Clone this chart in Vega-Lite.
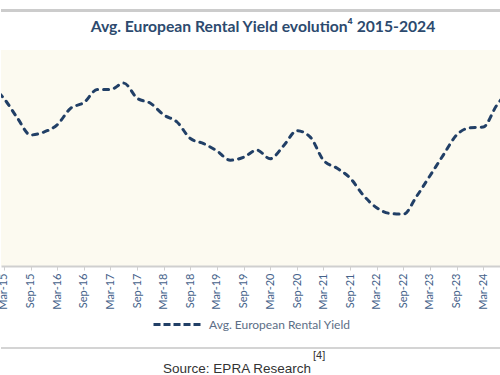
{
  "$schema": "https://vega.github.io/schema/vega-lite/v6.json",
  "padding": {"top": 0, "left": -3, "right": 0, "bottom": 0},
  "background": "white",
  "spacing": 0,
  "config": {"view": {"stroke": null}, "font": "Lato"},
  "datasets": {
    "yield": [
      {"date": "2014-12-01", "value": 5.50, "series": "Avg. European Rental Yield"},
      {"date": "2015-03-01", "value": 5.33, "series": "Avg. European Rental Yield"},
      {"date": "2015-06-01", "value": 5.06, "series": "Avg. European Rental Yield"},
      {"date": "2015-09-01", "value": 4.82, "series": "Avg. European Rental Yield"},
      {"date": "2015-12-01", "value": 4.86, "series": "Avg. European Rental Yield"},
      {"date": "2016-03-01", "value": 4.96, "series": "Avg. European Rental Yield"},
      {"date": "2016-06-01", "value": 5.19, "series": "Avg. European Rental Yield"},
      {"date": "2016-09-01", "value": 5.27, "series": "Avg. European Rental Yield"},
      {"date": "2016-12-01", "value": 5.45, "series": "Avg. European Rental Yield"},
      {"date": "2017-03-01", "value": 5.45, "series": "Avg. European Rental Yield"},
      {"date": "2017-06-01", "value": 5.54, "series": "Avg. European Rental Yield"},
      {"date": "2017-09-01", "value": 5.33, "series": "Avg. European Rental Yield"},
      {"date": "2017-12-01", "value": 5.26, "series": "Avg. European Rental Yield"},
      {"date": "2018-03-01", "value": 5.10, "series": "Avg. European Rental Yield"},
      {"date": "2018-06-01", "value": 5.00, "series": "Avg. European Rental Yield"},
      {"date": "2018-09-01", "value": 4.77, "series": "Avg. European Rental Yield"},
      {"date": "2018-12-01", "value": 4.70, "series": "Avg. European Rental Yield"},
      {"date": "2019-03-01", "value": 4.60, "series": "Avg. European Rental Yield"},
      {"date": "2019-06-01", "value": 4.47, "series": "Avg. European Rental Yield"},
      {"date": "2019-09-01", "value": 4.51, "series": "Avg. European Rental Yield"},
      {"date": "2019-12-01", "value": 4.61, "series": "Avg. European Rental Yield"},
      {"date": "2020-03-01", "value": 4.49, "series": "Avg. European Rental Yield"},
      {"date": "2020-06-01", "value": 4.67, "series": "Avg. European Rental Yield"},
      {"date": "2020-09-01", "value": 4.88, "series": "Avg. European Rental Yield"},
      {"date": "2020-12-01", "value": 4.79, "series": "Avg. European Rental Yield"},
      {"date": "2021-03-01", "value": 4.47, "series": "Avg. European Rental Yield"},
      {"date": "2021-06-01", "value": 4.36, "series": "Avg. European Rental Yield"},
      {"date": "2021-09-01", "value": 4.22, "series": "Avg. European Rental Yield"},
      {"date": "2021-12-01", "value": 3.98, "series": "Avg. European Rental Yield"},
      {"date": "2022-03-01", "value": 3.81, "series": "Avg. European Rental Yield"},
      {"date": "2022-06-01", "value": 3.73, "series": "Avg. European Rental Yield"},
      {"date": "2022-09-01", "value": 3.72, "series": "Avg. European Rental Yield"},
      {"date": "2022-12-01", "value": 3.97, "series": "Avg. European Rental Yield"},
      {"date": "2023-03-01", "value": 4.25, "series": "Avg. European Rental Yield"},
      {"date": "2023-06-01", "value": 4.54, "series": "Avg. European Rental Yield"},
      {"date": "2023-09-01", "value": 4.82, "series": "Avg. European Rental Yield"},
      {"date": "2023-12-01", "value": 4.92, "series": "Avg. European Rental Yield"},
      {"date": "2024-03-01", "value": 4.93, "series": "Avg. European Rental Yield"},
      {"date": "2024-06-01", "value": 5.23, "series": "Avg. European Rental Yield"},
      {"date": "2024-09-01", "value": 5.45, "series": "Avg. European Rental Yield"}
    ]
  },
  "vconcat": [
    {
      "width": 500,
      "height": 9,
      "data": {"values": [{}]},
      "mark": {"type": "rect", "opacity": 0},
      "encoding": {}
    },
    {
      "width": 500,
      "height": 3,
      "data": {"values": [{}]},
      "mark": {"type": "rect", "color": "#cccccc"},
      "encoding": {}
    },
    {
      "width": 500,
      "height": 7,
      "data": {"values": [{}]},
      "mark": {"type": "rect", "opacity": 0},
      "encoding": {}
    },
    {
      "width": 500,
      "height": 216,
      "title": {
        "text": "Avg. European Rental Yield evolution⁴ 2015-2024",
        "font": "Lato",
        "fontSize": 15.7,
        "fontWeight": "bold",
        "color": "#2c4a6e",
        "anchor": "middle",
        "dx": 12,
        "offset": 14
      },
      "view": {"fill": "#fcfaf0", "stroke": null},
      "data": {"name": "yield"},
      "mark": {
        "type": "line",
        "interpolate": "monotone",
        "strokeWidth": 3,
        "strokeDash": [5, 6],
        "strokeCap": "round",
        "clip": true
      },
      "encoding": {
        "x": {
          "field": "date",
          "type": "temporal",
          "scale": {
            "type": "utc",
            "domain": [
              {"year": 2015, "month": 2, "date": 10, "utc": true},
              {"year": 2024, "month": 7, "date": 1, "utc": true}
            ]
          },
          "axis": {
            "title": null,
            "values": [
              {"year": 2015, "month": 3, "date": 1, "utc": true},
              {"year": 2015, "month": 9, "date": 1, "utc": true},
              {"year": 2016, "month": 3, "date": 1, "utc": true},
              {"year": 2016, "month": 9, "date": 1, "utc": true},
              {"year": 2017, "month": 3, "date": 1, "utc": true},
              {"year": 2017, "month": 9, "date": 1, "utc": true},
              {"year": 2018, "month": 3, "date": 1, "utc": true},
              {"year": 2018, "month": 9, "date": 1, "utc": true},
              {"year": 2019, "month": 3, "date": 1, "utc": true},
              {"year": 2019, "month": 9, "date": 1, "utc": true},
              {"year": 2020, "month": 3, "date": 1, "utc": true},
              {"year": 2020, "month": 9, "date": 1, "utc": true},
              {"year": 2021, "month": 3, "date": 1, "utc": true},
              {"year": 2021, "month": 9, "date": 1, "utc": true},
              {"year": 2022, "month": 3, "date": 1, "utc": true},
              {"year": 2022, "month": 9, "date": 1, "utc": true},
              {"year": 2023, "month": 3, "date": 1, "utc": true},
              {"year": 2023, "month": 9, "date": 1, "utc": true},
              {"year": 2024, "month": 3, "date": 1, "utc": true}
            ],
            "format": "%b-%y",
            "labelAngle": -90,
            "labelFont": "Lato",
            "labelFontSize": 11,
            "labelColor": "#45628a",
            "labelFlush": false,
            "labelOverlap": false,
            "labelPadding": 3,
            "domainColor": "#cfcfcf",
            "domainWidth": 2,
            "tickColor": "#cfcfcf",
            "tickSize": 4,
            "grid": false
          }
        },
        "y": {
          "field": "value",
          "type": "quantitative",
          "scale": {"domain": [3, 6]},
          "axis": null
        },
        "color": {
          "field": "series",
          "type": "nominal",
          "scale": {"range": ["#213f66"]},
          "legend": {
            "title": null,
            "orient": "none",
            "legendX": 151,
            "legendY": 298,
            "direction": "horizontal",
            "symbolType": "stroke",
            "symbolSize": 2500,
            "symbolStrokeWidth": 3,
            "symbolDash": [7, 3],
            "labelFont": "Lato",
            "labelFontSize": 12,
            "labelColor": "#5c6e86",
            "labelOffset": 4,
            "padding": 0
          }
        }
      }
    },
    {
      "width": 500,
      "height": 37,
      "data": {"values": [{}]},
      "mark": {"type": "rect", "opacity": 0},
      "encoding": {}
    },
    {
      "width": 500,
      "height": 2,
      "data": {"values": [{}]},
      "mark": {"type": "rect", "color": "#d4d4d4"},
      "encoding": {}
    },
    {
      "width": 500,
      "height": 27,
      "layer": [
        {
          "data": {"values": [{"label": "Source: EPRA Research"}]},
          "mark": {"type": "text", "font": "Liberation Sans", "fontSize": 13.5, "color": "#333333", "align": "center", "dx": -14, "dy": -2},
          "encoding": {"text": {"field": "label"}}
        },
        {
          "data": {"values": [{"label": "[4]"}]},
          "mark": {"type": "text", "font": "Liberation Sans", "fontSize": 11, "color": "#333333", "align": "left", "dx": 62, "dy": -15},
          "encoding": {"text": {"field": "label"}}
        }
      ]
    }
  ]
}
